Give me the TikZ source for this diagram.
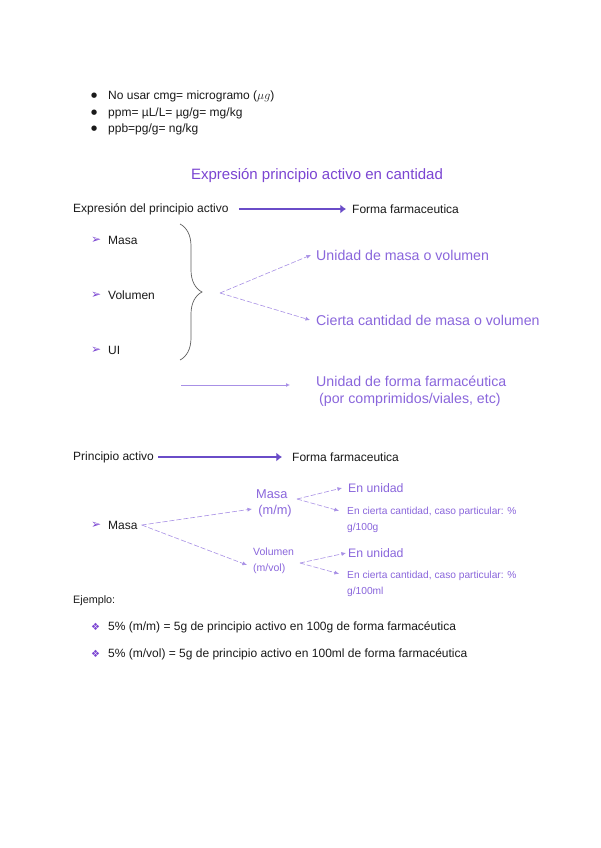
\documentclass[tikz,border=0pt]{standalone}
\usepackage{fontspec}
\setmainfont{Liberation Sans}
\newfontfamily\symfont{DejaVu Sans}
\usetikzlibrary{arrows.meta,decorations.pathreplacing,positioning}
\definecolor{Ink}{HTML}{1A1A1A}
\definecolor{Violet}{HTML}{7B45D2}
\definecolor{Lilac}{HTML}{8A66DC}
\definecolor{Bar}{HTML}{6A4CC8}
\definecolor{Pale}{HTML}{A890E6}

\begin{document}
\begin{tikzpicture}[
  x=1pt,y=-1pt,
  txt/.style={anchor=west,inner sep=0pt,text=Ink,font=\fontsize{12}{14}\selectfont},
  note/.style={anchor=west,inner sep=0pt,text=Lilac,font=\fontsize{14.2}{19}\selectfont,align=left},
  small/.style={anchor=west,inner sep=0pt,text=Lilac,font=\fontsize{10.2}{16.5}\selectfont,align=left},
  sym/.style={anchor=west,inner sep=0pt,text=Violet,font=\symfont\fontsize{10}{11}\selectfont},
  pointer/.style={sym,font=\symfont\fontsize{12}{13}\selectfont},
  dot/.style={sym,text=Ink,font=\symfont\fontsize{7}{8}\selectfont},
  bigarrow/.style={-{Latex[length=2mm,width=3.2mm]},line width=2.6pt,draw=Bar},
  dasharrow/.style={-{Latex[length=1.6mm,width=1.4mm]},dash pattern=on 5pt off 2pt,line width=0.6pt,draw=Pale},
  thinarrow/.style={-{Latex[length=1.4mm,width=1.4mm]},line width=0.8pt,draw=Pale}
]
  \useasboundingbox[fill=white] (0,0) rectangle (600,848);

  % bullets on top
  \node[dot] (b1) at (91,96) {●};
  \node[txt] (l1) at (108,96) {No usar cmg= microgramo ($\mu g$)};
  \node[dot] (b2) at (91,113) {●};
  \node[txt] (l2) at (108,113) {ppm= µL/L= µg/g= mg/kg};
  \node[dot] (b3) at (91,129) {●};
  \node[txt] (l3) at (108,129) {ppb=pg/g= ng/kg};

  \node[inner sep=0pt,text=Violet,font=\fontsize{15}{18}\selectfont] (title) at (317,176) {Expresión principio activo en cantidad};

  % first scheme
  \node[txt] (exp) at (73,209) {Expresión del principio activo};
  \node[txt] (ff1) at (352,209) {Forma farmaceutica};
  \draw[bigarrow] ([xshift=10pt]exp.east) -- ([xshift=-6pt]ff1.west);

  \node[pointer] (m1) at (91,240) {➢};
  \node[txt] (masa) at (108,240) {Masa};
  \node[pointer] (m2) at (91,295) {➢};
  \node[txt] (vol) at (108,295) {Volumen};
  \node[pointer] (m3) at (91,350) {➢};
  \node[txt] (ui) at (108,350) {UI};

  \draw[Ink!70,line width=0.7pt,decorate,decoration={brace,amplitude=22pt,aspect=0.5}] (180,224) -- (180,360);
  \coordinate (tip) at (220,293);

  \node[note] (u1) at (316,255) {Unidad de masa o volumen};
  \node[note] (u2) at (316,320) {Cierta cantidad de masa o volumen};
  \draw[dasharrow] (tip) -- ([xshift=-5pt]u1.west);
  \draw[dasharrow] (tip) -- ([xshift=-6pt]u2.west);

  \coordinate (start) at (181,385);
  \node[note] (u3) at (316,381) {Unidad de forma farmacéutica};
  \node[note] (u4) at (319,400) {(por comprimidos/viales, etc)};
  \draw[thinarrow] (start) -- (290,385);

  % second scheme
  \node[txt] (pa) at (73,457) {Principio activo};
  \node[txt] (ff2) at (292,457) {Forma farmaceutica};
  \draw[bigarrow] ([xshift=4pt]pa.east) -- ([xshift=-10pt]ff2.west);

  \node[pointer] (m4) at (91,525) {➢};
  \node[txt] (masa2) at (108,525) {Masa};

  \node[note,font=\fontsize{12.8}{17}\selectfont] (mm) at (256,503) {Masa\\[-1pt]\,(m/m)};
  \node[small,font=\fontsize{10.5}{16}\selectfont] (mv) at (253,561) {Volumen\\(m/vol)};
  \draw[dasharrow] ([xshift=4pt]masa2.east) -- ([xshift=-4pt,yshift=-6pt]mm.west);
  \draw[dasharrow] ([xshift=4pt]masa2.east) -- ([xshift=-6pt,yshift=-4pt]mv.west);

  \node[note,font=\fontsize{12.3}{14}\selectfont] (eu1) at (348,488) {En unidad};
  \node[small] (ec1) at (347,520) {En cierta cantidad, caso particular: \%\\g/100g};
  \node[note,font=\fontsize{12.3}{14}\selectfont] (eu2) at (348,553) {En unidad};
  \node[small] (ec2) at (347,584) {En cierta cantidad, caso particular: \%\\g/100ml};
  \coordinate (fm) at (297,499);
  \coordinate (fv) at (300,563);
  \draw[dasharrow] (fm) -- ([xshift=-6pt]eu1.west);
  \draw[dasharrow] (fm) -- ([xshift=-8pt,yshift=-4pt]ec1.north west);
  \draw[dasharrow] (fv) -- ([xshift=-2pt]eu2.west);
  \draw[dasharrow] (fv) -- ([xshift=-8pt,yshift=-3pt]ec2.north west);

  % examples
  \node[txt,font=\fontsize{10.8}{12}\selectfont] (ej) at (73,601) {Ejemplo:};
  \node[sym] (d1) at (91,627) {❖};
  \node[txt] (e1) at (108,627) {5\% (m/m) = 5g de principio activo en 100g de forma farmacéutica};
  \node[sym] (d2) at (91,654) {❖};
  \node[txt] (e2) at (108,654) {5\% (m/vol) = 5g de principio activo en 100ml de forma farmacéutica};
\end{tikzpicture}
\end{document}
